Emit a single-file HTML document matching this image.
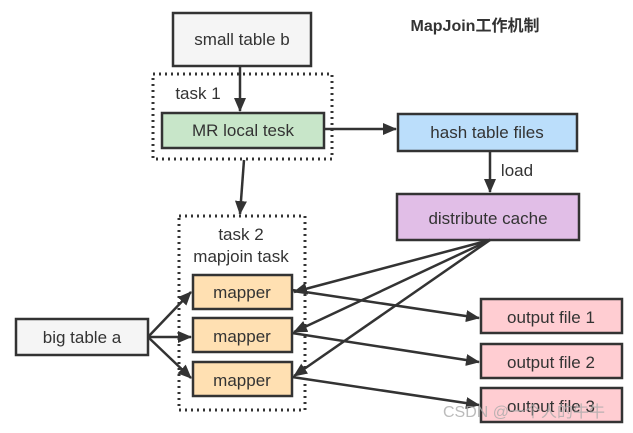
<!DOCTYPE html>
<html><head><meta charset="utf-8"><style>
body{margin:0;background:#fff;}
svg{display:block;font-family:"Liberation Sans","Microsoft YaHei","Noto Sans CJK SC",sans-serif;}
</style></head><body>
<svg width="633" height="433" viewBox="0 0 633 433" xmlns="http://www.w3.org/2000/svg">
<defs><marker id="a" markerWidth="14" markerHeight="12" refX="13" refY="6" orient="auto" markerUnits="userSpaceOnUse"><path d="M0,0 L14,6 L0,12 z" fill="#333"/></marker></defs>
<g stroke="#333" stroke-width="3" fill="none" stroke-dasharray="2,4">
<rect x="153" y="74" width="179" height="85"/>
<rect x="179" y="216" width="126" height="194"/>
</g>
<g stroke="#333" stroke-width="2.5">
<rect x="173" y="13" width="138" height="53" fill="#f5f5f5"/>
<rect x="162" y="113" width="162" height="35" fill="#c8e6c9"/>
<rect x="398" y="114" width="179" height="37" fill="#bbdefb"/>
<rect x="397" y="194" width="182" height="46" fill="#e1bee7"/>
<rect x="16" y="319" width="132" height="36" fill="#f5f5f5"/>
<rect x="193" y="275" width="99" height="34" fill="#ffe0b2"/>
<rect x="193" y="318" width="99" height="34" fill="#ffe0b2"/>
<rect x="193" y="362" width="99" height="34" fill="#ffe0b2"/>
<rect x="481" y="299" width="141" height="34" fill="#ffcdd2"/>
<rect x="481" y="344" width="141" height="34" fill="#ffcdd2"/>
<rect x="481" y="388" width="141" height="34" fill="#ffcdd2"/>
</g>
<g stroke="#333" stroke-width="2.5" marker-end="url(#a)">
<line x1="240" y1="66" x2="240" y2="111"/>
<line x1="324" y1="129" x2="396" y2="129"/>
<line x1="244" y1="160" x2="240" y2="214"/>
<line x1="490" y1="151" x2="490" y2="192"/>
<line x1="490" y1="240" x2="294" y2="292"/>
<line x1="490" y1="240" x2="294" y2="332"/>
<line x1="490" y1="240" x2="294" y2="376"/>
<line x1="292" y1="290" x2="479" y2="318"/>
<line x1="292" y1="333" x2="479" y2="362"/>
<line x1="292" y1="377" x2="479" y2="405"/>
<line x1="148" y1="337" x2="191" y2="292"/>
<line x1="148" y1="337" x2="191" y2="337"/>
<line x1="148" y1="337" x2="191" y2="378"/>
</g>
<g fill="#333" font-size="17" text-anchor="middle">
<text x="242" y="45">small table b</text>
<text x="243" y="136">MR local tesk</text>
<text x="487" y="138">hash table files</text>
<text x="488" y="224">distribute cache</text>
<text x="82" y="343">big table a</text>
<text x="242" y="298">mapper</text>
<text x="242" y="342">mapper</text>
<text x="242" y="386">mapper</text>
<text x="551" y="323">output file 1</text>
<text x="551" y="368">output file 2</text>
<text x="551" y="412">output file 3</text>
<text x="198" y="99">task 1</text>
<text x="241" y="240">task 2</text>
<text x="241" y="262">mapjoin task</text>
<text x="517" y="176">load</text>
<text x="475" y="31" font-weight="bold" font-size="16">MapJoin工作机制</text>
</g>
<text x="524" y="417" font-size="16" fill="#aaa" fill-opacity="0.8" text-anchor="middle">CSDN @一个人的牛牛</text>
</svg>
</body></html>
